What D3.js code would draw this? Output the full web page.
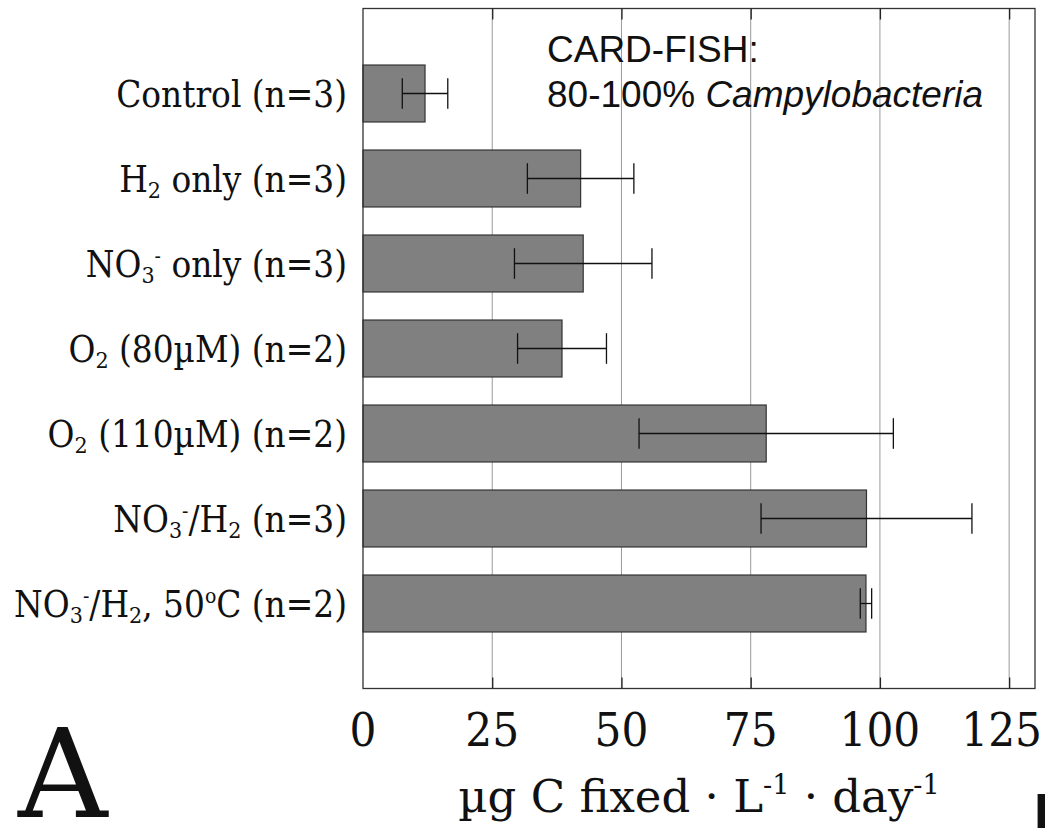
<!DOCTYPE html>
<html>
  <head>
    <style>
      body {
        margin: 0;
        background: #fff;
      }
      .serif {
        font-family: "DejaVu Serif", serif;
        font-stretch: condensed;
        fill: #111;
      }
      .grid line {
        stroke: #999;
        stroke-width: 1px;
      }
      .bar {
        fill: #808080;
        stroke: #333;
        stroke-width: 1.2px;
      }
      .err {
        stroke: #111;
        stroke-width: 1.3px;
        fill: none;
      }
    </style>
  </head>
  <body>
    <script src="https://d3js.org/d3.v7.min.js"></script>
    <script>
    // label parts: [text, "n" normal | "sub" | "sup"]
      var labels = [
        [["Control (n=3)", "n"]],
        [["H", "n"], ["2", "sub"], [" only (n=3)", "n"]],
        [["NO", "n"], ["3", "sub"], ["-", "sup"], [" only (n=3)", "n"]],
        [["O", "n"], ["2", "sub"], [" (80\u00b5M) (n=2)", "n"]],
        [["O", "n"], ["2", "sub"], [" (110\u00b5M) (n=2)", "n"]],
        [["NO", "n"], ["3", "sub"], ["-", "sup"], ["/H", "n"], ["2", "sub"], [" (n=3)", "n"]],
        [["NO", "n"], ["3", "sub"], ["-", "sup"], ["/H", "n"], ["2", "sub"], [", 50", "n"], ["o", "sup"], ["C (n=2)", "n"]]
      ];
      var means = [12, 42.1, 42.6, 38.5, 78, 97.4, 97.3];
      var errors = [4.4, 10.3, 13.3, 8.6, 24.6, 20.4, 1.1];
      var x_ticks = [0, 25, 50, 75, 100, 125];
      var grid_ticks = [25, 50, 75, 100, 125];

      var width = 1045, height = 828;
      var margin = {left: 363, right: 10, top: 8.5, bottom: 139.5};

      var svg = d3.select("body").append("svg")
          .attr("width", width)
          .attr("height", height);

      var x_scale = d3.scaleLinear().domain([0, 130]).range([margin.left, width - margin.right]);
      // bars sit at positions 1..7 on a 0..8 axis
      var y_scale = d3.scaleLinear().domain([0, 8]).range([margin.top, height - margin.bottom]);
      var bar_h = y_scale(0.67) - y_scale(0);
      var cap_h = y_scale(0.36) - y_scale(0);

      //gridlines
      svg.append("g").attr("class", "grid")
        .selectAll("line").data(grid_ticks).enter().append("line")
          .attr("x1", d => x_scale(d)).attr("x2", d => x_scale(d))
          .attr("y1", y_scale(0)).attr("y2", y_scale(8));

      //bars
      svg.selectAll(".bar").data(means).enter().append("rect")
          .attr("class", "bar")
          .attr("x", x_scale(0))
          .attr("y", (d, i) => y_scale(i + 1) - bar_h / 2)
          .attr("width", d => x_scale(d) - x_scale(0))
          .attr("height", bar_h);

      //error bars
      var eb = svg.selectAll(".eb").data(means).enter().append("g").attr("class", "err");
      eb.append("line")
          .attr("x1", (d, i) => x_scale(d - errors[i]))
          .attr("x2", (d, i) => x_scale(d + errors[i]))
          .attr("y1", (d, i) => y_scale(i + 1)).attr("y2", (d, i) => y_scale(i + 1));
      [-1, 1].forEach(function(s) {
        eb.append("line")
            .attr("x1", (d, i) => x_scale(d + s * errors[i]))
            .attr("x2", (d, i) => x_scale(d + s * errors[i]))
            .attr("y1", (d, i) => y_scale(i + 1) - cap_h / 2)
            .attr("y2", (d, i) => y_scale(i + 1) + cap_h / 2);
      });

      //frame and inward ticks
      svg.append("rect")
          .attr("x", x_scale(0)).attr("y", y_scale(0))
          .attr("width", x_scale(130) - x_scale(0))
          .attr("height", y_scale(8) - y_scale(0))
          .attr("fill", "none").attr("stroke", "#333").attr("stroke-width", 1.3);

      var x_axis_bottom = d3.axisTop(x_scale).tickValues(grid_ticks).tickSize(11).tickFormat("");
      var x_axis_top = d3.axisBottom(x_scale).tickValues(grid_ticks).tickSize(11).tickFormat("");
      svg.append("g").attr("transform", "translate(0," + y_scale(8) + ")").call(x_axis_bottom)
        .call(g => g.select(".domain").remove())
        .selectAll("line").attr("stroke", "#222").attr("stroke-width", 1.3);
      svg.append("g").attr("transform", "translate(0," + y_scale(0) + ")").call(x_axis_top)
        .call(g => g.select(".domain").remove())
        .selectAll("line").attr("stroke", "#222").attr("stroke-width", 1.3);

      //tick labels, the last one pulled in so it stays on the page
      svg.selectAll(".xlab").data(x_ticks).enter().append("text")
          .attr("class", "serif")
          .attr("x", d => x_scale(d))
          .attr("y", 746)
          .attr("text-anchor", "middle")
          .style("font-size", "47px")
          .text(d => d)
          .each(function() {
            var w = this.getComputedTextLength();
            var x = +d3.select(this).attr("x");
            if (x + w / 2 > width - 3) d3.select(this).attr("x", width - 3 - w / 2);
          });

      //category labels
      var lab = svg.selectAll(".ylab").data(labels).enter().append("text")
          .attr("class", "serif")
          .attr("x", 347)
          .attr("y", (d, i) => y_scale(i + 1) + 13.5)
          .attr("text-anchor", "end")
          .style("font-size", "36.5px");
      lab.each(function(parts) {
        var t = d3.select(this), shift = 0;
        parts.forEach(function(p) {
          var dy = 0, size = null;
          if (p[1] === "sub") { dy = 6 - shift; size = "23px"; shift = 6; }
          else if (p[1] === "sup") { dy = -14 - shift; size = "21px"; shift = -14; }
          else { dy = -shift; shift = 0; }
          var sp = t.append("tspan").attr("dy", dy).text(p[0]);
          if (size) sp.style("font-size", size);
        });
      });

      //axis title
      var title = svg.append("text")
          .attr("x", (x_scale(0) + x_scale(130)) / 2)
          .attr("y", 812)
          .attr("text-anchor", "middle")
          .style("font-family", "DejaVu Serif, serif")
          .attr("fill", "#111")
          .style("font-size", "45px");
      title.append("tspan").text("\u00b5g C fixed \u00b7 L");
      title.append("tspan").attr("dy", -18).style("font-size", "27px").text("-1");
      title.append("tspan").attr("dy", 18).text(" \u00b7 day");
      title.append("tspan").attr("dy", -18).style("font-size", "27px").text("-1");

      //panel letter
      svg.append("text")
          .attr("x", 18).attr("y", 817)
          .style("font-family", "DejaVu Serif, serif")
          .style("font-size", "124px")
          .attr("fill", "#111")
          .text("A");

      //annotation
      var note = svg.append("g")
          .style("font-family", "Liberation Sans, Arial, sans-serif")
          .style("font-size", "37px")
          .attr("fill", "#111");
      note.append("text").attr("x", 547).attr("y", 62).text("CARD-FISH:");
      var l2 = note.append("text").attr("x", 547).attr("y", 107);
      l2.append("tspan").text("80-100% ");
      l2.append("tspan").style("font-style", "italic").text("Campylobacteria");

      //cut-off letter of the neighbouring panel
      svg.append("text")
          .attr("x", 1033).attr("y", 830)
          .style("font-family", "DejaVu Sans, sans-serif")
          .style("font-weight", "bold")
          .style("font-size", "50px")
          .attr("fill", "#111")
          .text("M");
    </script>
  </body>
</html>
